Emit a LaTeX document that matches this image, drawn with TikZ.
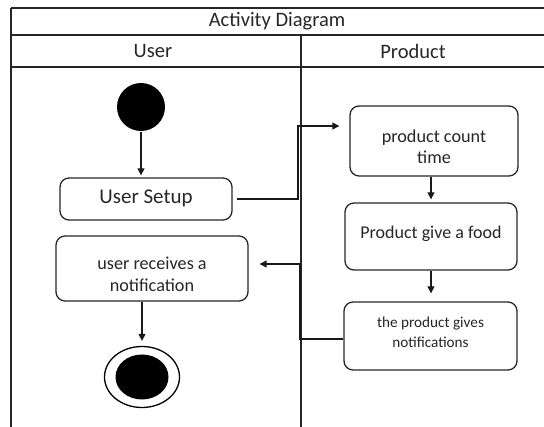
\documentclass[tikz,border=0pt]{standalone}
\usepackage{fontspec}
\setmainfont{Carlito}
\usetikzlibrary{arrows.meta,shapes.geometric}
\begin{document}
\begin{tikzpicture}[x=1pt,y=-1pt,line width=1.2pt,
  frame/.style={draw=black!85,line width=1.3pt},
  act/.style={draw=black!85,line width=1.3pt,rounded corners=9pt,inner sep=0pt},
  txt/.style={align=center,inner sep=0pt,text=black!85},
  arr/.style={draw=black!90,line width=1.2pt,-{Triangle[length=7pt,width=7pt]}},
  lbl/.style={font=\fontsize{20.5}{22}\selectfont,text=black!85}]
\useasboundingbox (0,0) rectangle (544,427);
\clip (0,0) rectangle (544,427);
% frame
\draw[frame] (11,8) -- (560,8);
\draw[frame] (11,35) -- (560,35);
\draw[frame] (11,67) -- (560,67);
\draw[frame] (11,8) -- (11,430);
\draw[frame] (301,35) -- (301,430);
\node[lbl] (title) at (277,21.5) {Activity Diagram};
\node[lbl] (user) at (153,51) {User};
\node[lbl] (product) at (413,51) {Product};
% nodes
\node[circle,fill=black,minimum size=48pt,inner sep=0pt] (start) at (141,107) {};
\node[act,minimum width=172pt,minimum height=42pt] (setup) at (146,199) {};
\node[txt,font=\fontsize{21}{22}\selectfont] (setupt) at (146,198) {User Setup};
\node[act,minimum width=168pt,minimum height=70pt] (count) at (434,141) {};
\node[txt,font=\fontsize{18.2}{21}\selectfont] (countt) at (434,147) {product count\\time};
\node[act,minimum width=172pt,minimum height=67pt] (food) at (431,236.5) {};
\node[txt,font=\fontsize{18}{21}\selectfont] (foodt) at (431,234) {Product give a food};
\node[act,minimum width=173pt,minimum height=68pt] (notif) at (430.5,336) {};
\node[txt,font=\fontsize{15.2}{20}\selectfont] (notift) at (430.5,332) {the product gives\\notifications};
\node[act,minimum width=192pt,minimum height=65pt] (recv) at (152,268.5) {};
\node[txt,font=\fontsize{18.2}{22}\selectfont] (recvt) at (152,274) {user receives a\\notification};
\node[ellipse,draw=black,line width=1.3pt,minimum width=75pt,minimum height=61pt,inner sep=0pt] (end) at (142,377) {};
\node[ellipse,fill=black,minimum width=53pt,minimum height=45pt,inner sep=0pt] (endin) at (end.center) {};
% connectors
\coordinate (j1) at (298,199);
\coordinate (j2) at (298,126);
\coordinate (k1) at (300,339);
\coordinate (k2) at (300,264);
\draw[arr,shorten >=2pt] (start.south) -- (setup.north -| start.south);
\draw[arr,shorten <=4pt,shorten >=10pt] (setup.east) -- (j1) -- (j2) -- (count.west |- j2);
\draw[arr,shorten >=3pt] (count.south -| food.north) -- (food.north);
\draw[arr,shorten >=8pt] (food.south) -- (notif.north -| food.south);
\draw[arr,shorten >=11pt] (notif.west |- k1) -- (k1) -- (k2) -- (recv.east |- k2);
\draw[arr,shorten >=5pt] (recv.south -| end.north) -- (end.north);
\end{tikzpicture}
\end{document}
